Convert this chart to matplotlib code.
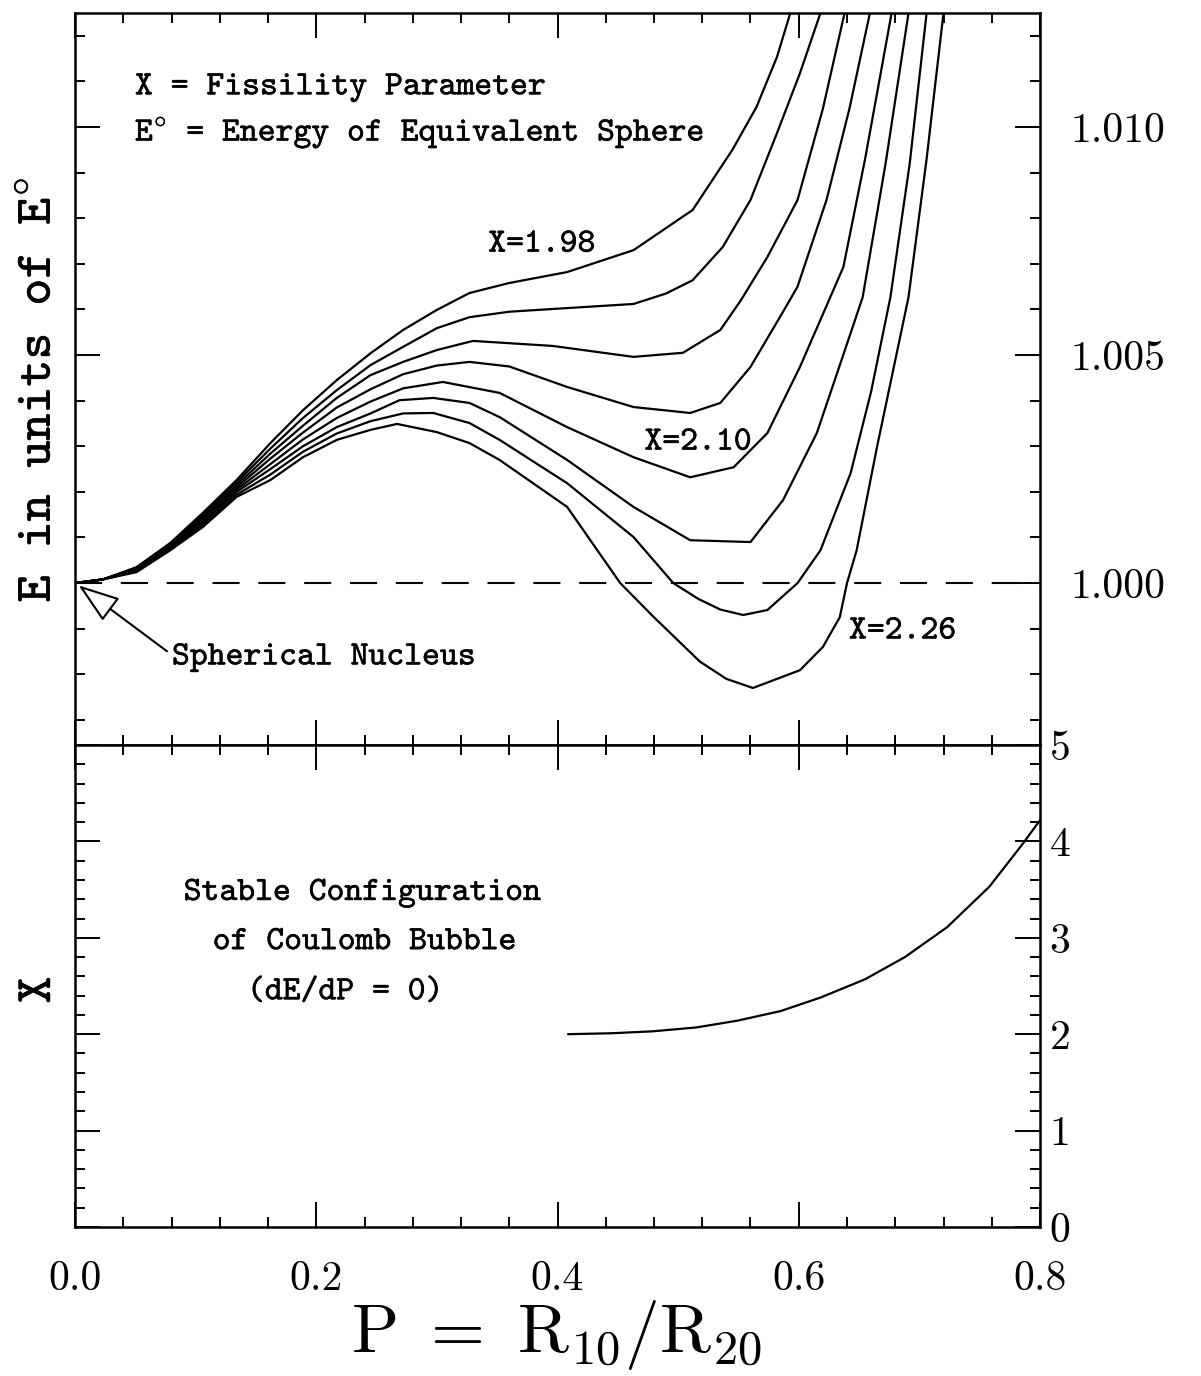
import numpy as np
import matplotlib.pyplot as plt
from matplotlib.ticker import MultipleLocator, FormatStrFormatter
from matplotlib import patheffects as pe

plt.rcParams['mathtext.fontset'] = 'cm'

# energy curves, E - 1 in units of 1e-3
p_198 = [0, .023, .051, .079, .106, .134, .162, .189, .217, .245, .272, .300, .327, .36, .408, .463, .512, .545, .565, .582, .593]
e_198 = [0, .08, .35, .88, 1.54, 2.26, 3.07, 3.79, 4.45, 5.04, 5.55, 5.99, 6.36, 6.58, 6.82, 7.30, 8.18, 9.50, 10.44, 11.54, 12.5]

p_202 = [0, .023, .051, .079, .106, .134, .162, .189, .217, .245, .272, .300, .327, .36, .408, .463, .490, .512, .537, .560, .582, .601, .618]
e_202 = [0, .08, .33, .86, 1.50, 2.21, 2.95, 3.62, 4.23, 4.78, 5.18, 5.59, 5.83, 5.95, 6.03, 6.12, 6.35, 6.64, 7.37, 8.40, 9.87, 11.18, 12.5]

p_206 = [0, .023, .051, .079, .106, .134, .162, .189, .217, .245, .272, .300, .330, .396, .463, .504, .535, .552, .574, .599, .620, .638]
e_206 = [0, .08, .32, .84, 1.45, 2.15, 2.84, 3.45, 4.06, 4.56, 4.85, 5.11, 5.31, 5.20, 4.96, 5.05, 5.55, 6.20, 7.15, 8.40, 10.4, 12.5]

p_210 = [0, .023, .051, .079, .106, .134, .162, .189, .217, .245, .272, .300, .327, .36, .408, .463, .510, .535, .560, .587, .599, .623, .642, .659]
e_210 = [0, .08, .31, .82, 1.41, 2.10, 2.73, 3.30, 3.85, 4.25, 4.58, 4.77, 4.85, 4.75, 4.30, 3.86, 3.73, 3.95, 4.74, 5.95, 6.5, 8.4, 10.4, 12.5]

p_214 = [0, .023, .051, .079, .106, .134, .162, .189, .217, .245, .272, .305, .352, .408, .463, .510, .546, .574, .601, .637, .655, .677]
e_214 = [0, .08, .30, .80, 1.36, 2.05, 2.61, 3.15, 3.62, 3.98, 4.27, 4.41, 4.17, 3.42, 2.76, 2.32, 2.54, 3.29, 4.74, 6.93, 9.3, 12.5]

p_218 = [0, .023, .051, .079, .106, .134, .162, .189, .217, .245, .269, .297, .327, .352, .408, .463, .510, .560, .587, .615, .643, .653, .672, .691]
e_218 = [0, .08, .28, .78, 1.32, 2.00, 2.50, 3.00, 3.42, 3.72, 4.01, 4.06, 3.95, 3.64, 2.70, 1.67, 0.94, 0.90, 1.82, 3.29, 5.48, 6.27, 9.2, 12.5]

p_222 = [0, .023, .051, .079, .106, .134, .162, .189, .217, .245, .272, .297, .327, .352, .408, .463, .496, .517, .535, .554, .574, .599, .618, .643, .660, .676, .692, .706]
e_222 = [0, .08, .26, .75, 1.27, 1.94, 2.38, 2.88, 3.28, 3.55, 3.72, 3.73, 3.51, 3.14, 2.19, 1.01, 0, -0.35, -0.58, -0.70, -0.59, 0, 0.72, 2.41, 4.2, 6.27, 9.2, 12.5]

p_226 = [0, .023, .051, .079, .106, .134, .162, .189, .217, .245, .267, .300, .327, .352, .408, .452, .480, .518, .540, .562, .601, .620, .634, .640, .648, .665, .691, .706, .720]
e_226 = [0, .08, .24, .72, 1.23, 1.89, 2.26, 2.76, 3.14, 3.36, 3.49, 3.31, 3.07, 2.70, 1.67, 0, -0.75, -1.72, -2.10, -2.30, -1.91, -1.40, -0.75, 0, 0.72, 3.0, 6.27, 9.3, 12.5]

curves = [(p_198, e_198), (p_202, e_202), (p_206, e_206), (p_210, e_210),
          (p_214, e_214), (p_218, e_218), (p_222, e_222), (p_226, e_226)]

# stable configuration (dE/dP = 0)
p_stab = [0.409, 0.445, 0.479, 0.515, 0.549, 0.585, 0.618, 0.655, 0.688, 0.723, 0.758, 0.786, 0.800]
x_stab = [2.00, 2.01, 2.03, 2.07, 2.14, 2.24, 2.38, 2.57, 2.80, 3.11, 3.53, 3.98, 4.22]

xticks = [0.0, 0.2, 0.4, 0.6, 0.8]
eticks = [1.000, 1.005, 1.010]
xvals = [0, 1, 2, 3, 4, 5]

W, H = 1201, 1376
fig = plt.figure(figsize=(W / 100, H / 100), dpi=100)
L, R = 75, 1040
ax1 = fig.add_axes([L / W, 1 - 745 / H, (R - L) / W, (745 - 13) / H])
ax2 = fig.add_axes([L / W, 1 - 1227 / H, (R - L) / W, (1227 - 745) / H])

tt = ['cmtt10', 'DejaVu Sans Mono']
bold = [pe.withStroke(linewidth=0.35, foreground='black')]

for p, e in curves:
    ax1.plot(p, 1 + np.array(e) * 1e-3, c='black', lw=1.6)

ax1.plot([0, 0.8], [1.0, 1.0], c='black', lw=1.5, dashes=(13, 9))

ax1.set_xlim(0, 0.8)
ax1.set_ylim(0.99645, 1.0125)
ax2.set_xlim(0, 0.8)
ax2.set_ylim(0, 5)

ax2.plot(p_stab, x_stab, c='black', lw=1.6)

for ax in (ax1, ax2):
    for s in ax.spines.values():
        s.set_linewidth(1.8)
    ax.xaxis.set_major_locator(MultipleLocator(0.2))
    ax.xaxis.set_minor_locator(MultipleLocator(0.04))
    ax.tick_params(which='both', direction='in', top=True, right=True, left=True, bottom=True,
                   labelleft=False, labelright=True, labelbottom=False, width=1.4)
    ax.tick_params(which='major', length=18)
    ax.tick_params(which='minor', length=7)

ax1.set_yticks(eticks)
ax1.yaxis.set_minor_locator(MultipleLocator(0.001))
ax1.yaxis.set_major_formatter(FormatStrFormatter('%.3f'))
ax1.tick_params(axis='y', pad=22, labelsize=30, labelfontfamily='cmr10')

ax2.set_yticks(xvals)
ax2.yaxis.set_minor_locator(MultipleLocator(0.2))
ax2.tick_params(axis='y', pad=7, labelsize=30, labelfontfamily='cmr10')
ax2.set_xticks(xticks)
ax2.xaxis.set_major_formatter(FormatStrFormatter('%.1f'))
ax2.tick_params(axis='x', labelbottom=True, pad=24, labelsize=30, labelfontfamily='cmr10')

# annotations
kw = dict(family=tt, fontsize=24.5, va='center', path_effects=bold)
ax1.text(0.0497, 1.01086, 'X = Fissility Parameter', ha='left', **kw)
ax1.text(0.0497, 1.00987, r'E$^{\circ}$ = Energy of Equivalent Sphere', ha='left', **kw)
ax1.text(0.387, 1.00741, 'X=1.98', ha='center', **kw)
ax1.text(0.5165, 1.00307, 'X=2.10', ha='center', **kw)
ax1.text(0.686, 0.99893, 'X=2.26', ha='center', **kw)
ax1.annotate('Spherical Nucleus', xy=(0.003, 0.99995), xytext=(0.0804, 0.99836), ha='left',
             arrowprops=dict(arrowstyle='-|>,head_length=1.3,head_width=0.45', mutation_scale=20,
                             fc='white', ec='black', lw=1.5, shrinkA=2, shrinkB=0,
                             relpos=(0, 0.6)), **kw)

ax2.text(0.238, 3.46, 'Stable Configuration', ha='center', **kw)
ax2.text(0.240, 2.95, 'of Coulomb Bubble', ha='center', **kw)
ax2.text(0.224, 2.43, '(dE/dP = 0)', ha='center', **kw)

fig.text(40 / W, 1 - 390 / H, r'E in units of E$^{\circ}$', family=tt, fontsize=37, path_effects=bold,
         rotation=90, ha='center', va='center')
fig.text(40 / W, 1 - 990 / H, 'X', family=tt, fontsize=37, path_effects=bold,
         rotation=90, ha='center', va='center')
fig.text(557 / W, 1 - 1335 / H, r'$\mathrm{P\ =\ R_{10}/R_{20}}$', fontsize=50, ha='center', va='center')

fig.savefig('out.png', dpi=100)
